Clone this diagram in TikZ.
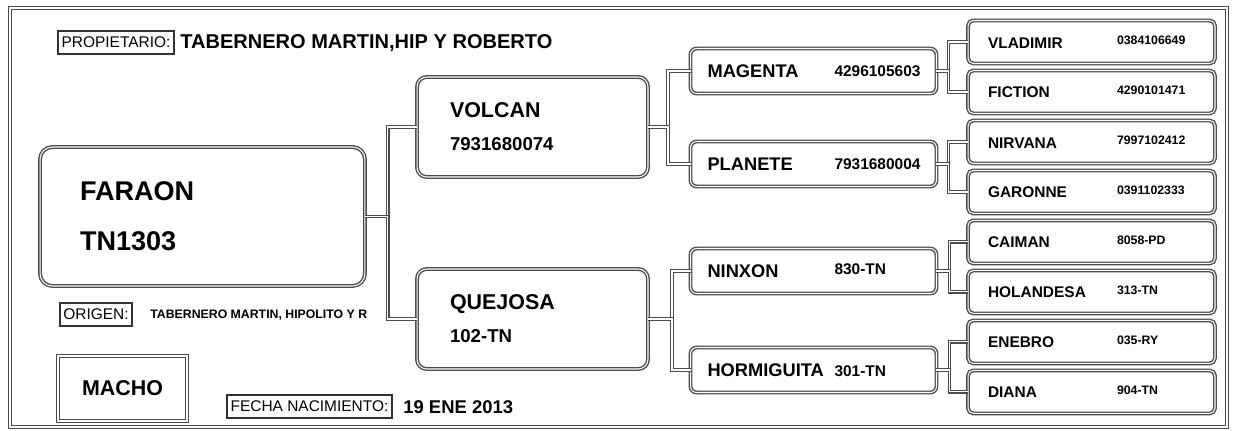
\documentclass[tikz,border=0pt]{standalone}
\usepackage{fontspec}
\setmainfont{Liberation Sans}
\usetikzlibrary{positioning}

\begin{document}
\begin{tikzpicture}[
    x=0.02cm, y=-0.02cm,
    node distance=0.14cm and 0.25cm,
    dline/.style={draw=gray!60!black, double=white, line width=0.8pt, double distance=0.6pt},
    horse/.style={rectangle, dline, inner sep=0pt, outer sep=0pt, align=left},
    gen1/.style={horse, rounded corners=7pt, minimum width=6.5cm, minimum height=2.78cm,
                 text width=4.9cm, font=\bfseries\fontsize{15.4}{28.5}\selectfont},
    gen2/.style={horse, rounded corners=5.5pt, minimum width=4.62cm, minimum height=2cm,
                 text width=3.3cm, font=\bfseries\fontsize{12.2}{18.8}\selectfont},
    gen3/.style={horse, rounded corners=3.5pt, minimum width=4.92cm, minimum height=0.9cm,
                 text width=4.24cm, font=\bfseries\fontsize{10.4}{12}\selectfont},
    gen4/.style={horse, rounded corners=3pt, minimum width=4.94cm, minimum height=0.86cm,
                 text width=4.14cm, font=\bfseries\fontsize{8.8}{10}\selectfont},
    tag/.style={rectangle, draw=black!80, line width=0.6pt, inner sep=0pt, minimum height=0.46cm,
                font=\fontsize{8.8}{10}\selectfont},
    line/.style={dline}
]
    \useasboundingbox (0,0) rectangle (1234,430);
    \draw [dline] (10,8) rectangle (1227,427);

    % header and footer
    \node [tag, minimum width=2.32cm] (owner) at (116,42.5) {PROPIETARIO:};
    \node [anchor=west, inner sep=0pt, font=\bfseries\fontsize{11.4}{13}\selectfont] (ownername) at (180,43) {TABERNERO MARTIN,HIP Y ROBERTO};
    \node [tag, minimum width=1.44cm] (origin) at (96,314.5) {ORIGEN:};
    \node [anchor=west, inner sep=0pt, font=\bfseries\fontsize{7}{8}\selectfont] (originname) at (150,315) {TABERNERO MARTIN, HIPOLITO Y R};
    \node [horse, align=center, minimum width=2.58cm, minimum height=1.3cm, font=\bfseries\fontsize{12.2}{14}\selectfont] (sex) at (122.5,388.5) {MACHO};
    \node [tag, minimum width=3.3cm] (birth) at (309.5,406.5) {FECHA NACIMIENTO:};
    \node [anchor=west, inner sep=0pt, font=\bfseries\fontsize{10.5}{12}\selectfont] (birthdate) at (403,407) {19 ENE 2013};

    % pedigree
    \node [gen1] (faraon) at (202.5,216.5) {FARAON\\TN1303};

    \node [gen2] (volcan)  at (532.5,127) {VOLCAN\\{\fontsize{10.6}{18.8}\selectfont 7931680074}};
    \node [gen2] (quejosa) at (532.5,319) {QUEJOSA\\{\fontsize{10.6}{18.8}\selectfont 102-TN}};

    \node [gen3] (magenta)    at (813.5,71)  {\makebox[2.54cm][l]{MAGENTA}\raisebox{0.5pt}{\fontsize{8.8}{10}\selectfont 4296105603}};
    \node [gen3] (planete)    at (813.5,164) {\makebox[2.54cm][l]{PLANETE}\raisebox{0.5pt}{\fontsize{8.8}{10}\selectfont 7931680004}};
    \node [gen3] (ninxon)     at (813.5,271) {\makebox[2.54cm][l]{NINXON}\raisebox{1.5pt}{\fontsize{8.8}{10}\selectfont 830-TN}};
    \node [gen3] (hormiguita) at (813.5,370) {\makebox[2.54cm][l]{HORMIGUITA}{\fontsize{8.8}{10}\selectfont 301-TN}};

    \node [gen4] (vladimir) at (1091.5,42) {\makebox[2.58cm][l]{VLADIMIR}\raisebox{2pt}{\fontsize{7}{8}\selectfont 0384106649}};
    \node [gen4, below=of vladimir]  (fiction)   {\makebox[2.58cm][l]{FICTION}\raisebox{2pt}{\fontsize{7}{8}\selectfont 4290101471}};
    \node [gen4, below=of fiction]   (nirvana)   {\makebox[2.58cm][l]{NIRVANA}\raisebox{2pt}{\fontsize{7}{8}\selectfont 7997102412}};
    \node [gen4, below=of nirvana]   (garonne)   {\makebox[2.58cm][l]{GARONNE}\raisebox{2pt}{\fontsize{7}{8}\selectfont 0391102333}};
    \node [gen4, below=of garonne]   (caiman)    {\makebox[2.58cm][l]{CAIMAN}\raisebox{2pt}{\fontsize{7}{8}\selectfont 8058-PD}};
    \node [gen4, below=of caiman]    (holandesa) {\makebox[2.58cm][l]{HOLANDESA}\raisebox{2pt}{\fontsize{7}{8}\selectfont 313-TN}};
    \node [gen4, below=of holandesa] (enebro)    {\makebox[2.58cm][l]{ENEBRO}\raisebox{2pt}{\fontsize{7}{8}\selectfont 035-RY}};
    \node [gen4, below=of enebro]    (diana)     {\makebox[2.58cm][l]{DIANA}\raisebox{2pt}{\fontsize{7}{8}\selectfont 904-TN}};

    \path [line] (faraon.east)  -- ++(23,0) |- (volcan.west);
    \path [line] (faraon.east)  -- ++(23,0) |- (quejosa.west);
    \path [line] (volcan.east)  -- ++(20,0) |- (magenta.west);
    \path [line] (volcan.east)  -- ++(20,0) |- (planete.west);
    \path [line] (quejosa.east) -- ++(24,0) |- (ninxon.west);
    \path [line] (quejosa.east) -- ++(24,0) |- (hormiguita.west);
    \path [line] (magenta.east) -- ++(12,0) |- (vladimir.west);
    \path [line] (magenta.east) -- ++(12,0) |- (fiction.west);
    \path [line] (planete.east) -- ++(12,0) |- (nirvana.west);
    \path [line] (planete.east) -- ++(12,0) |- (garonne.west);
    \path [line] (ninxon.east)  -- ++(13,0) |- (caiman.west);
    \path [line] (ninxon.east)  -- ++(13,0) |- (holandesa.west);
    \path [line] (hormiguita.east) -- ++(13,0) |- (enebro.west);
    \path [line] (hormiguita.east) -- ++(13,0) |- (diana.west);
\end{tikzpicture}
\end{document}
